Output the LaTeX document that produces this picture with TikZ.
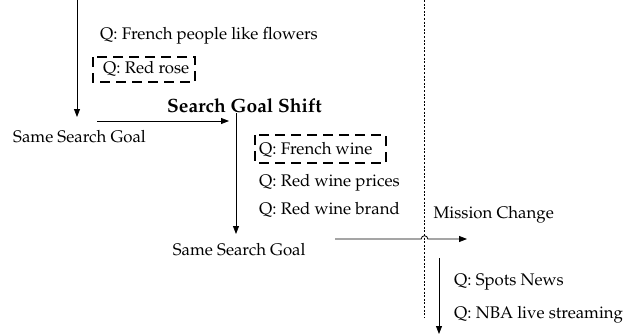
\documentclass[tikz,border=0pt]{standalone}
\usepackage[T1]{fontenc}
\usepackage{mathpazo}
\usetikzlibrary{arrows.meta}

\tikzset{
  qtext/.style={anchor=base west, inner sep=0pt, font=\fontsize{16.8}{20}\selectfont},
  shifttext/.style={anchor=base west, inner sep=0pt, font=\fontsize{19.2}{22}\selectfont\bfseries},
  flow/.style={line width=0.8pt, -{Triangle[length=8pt,width=6pt]}},
  dashbox/.style={line width=1.7pt, dash pattern=on 10pt off 6pt},
  border/.style={line width=0.7pt, dash pattern=on 2pt off 1.6pt},
}

\begin{document}
\begin{tikzpicture}[x=1pt,y=-1pt]

    \useasboundingbox (0,0) rectangle (641,335);

    %% first goal
    \coordinate (g1top) at (77,0);
    \coordinate (g1end) at (77,117);
    \draw[flow] (g1top) -- (g1end);
    \node[qtext] (flowers) at (100,39.5) {Q: French people like flowers};
    \node[qtext] (rose) at (103,73.5) {Q: Red rose};
    \draw[dashbox] (93,57) rectangle (195,82);
    \node[qtext] (same1) at (13,142) {Same Search Goal};

    %% goal shift
    \coordinate (s1) at (97,121);
    \coordinate (s2) at (229,121);
    \draw[flow] (s1) -- (s2);
    \node[shifttext] (shift) at (167,112.7) {Search Goal Shift};

    %% second goal
    \coordinate (g2top) at (236,113);
    \coordinate (g2end) at (236,234);
    \draw[flow] (g2top) -- (g2end);
    \node[qtext] (wine) at (259,154.3) {Q: French wine};
    \draw[dashbox] (255,135) rectangle (386,163);
    \node[qtext] (prices) at (259,186.7) {Q: Red wine prices};
    \node[qtext] (brand) at (259,214.3) {Q: Red wine brand};
    \node[qtext] (same2) at (172.7,255.7) {Same Search Goal};

    %% mission border
    \coordinate (btop) at (424.5,0);
    \coordinate (bend) at (424.5,318);
    \draw[border] (btop) -- (bend);

    %% mission change, hops over the border
    \coordinate (m1) at (335,239);
    \coordinate (m2) at (467,239);
    \draw[flow] (m1) -- (421.2,239) arc (180:360:3.3) -- (m2);
    \node[qtext] (mission) at (433.3,218.3) {Mission Change};

    %% new mission
    \coordinate (n1) at (439,258);
    \coordinate (n2) at (439,334);
    \draw[flow] (n1) -- (n2);
    \node[qtext] (news) at (454,285) {Q: Spots News};
    \node[qtext] (nba) at (454,318.3) {Q: NBA live streaming};

\end{tikzpicture}
\end{document}
